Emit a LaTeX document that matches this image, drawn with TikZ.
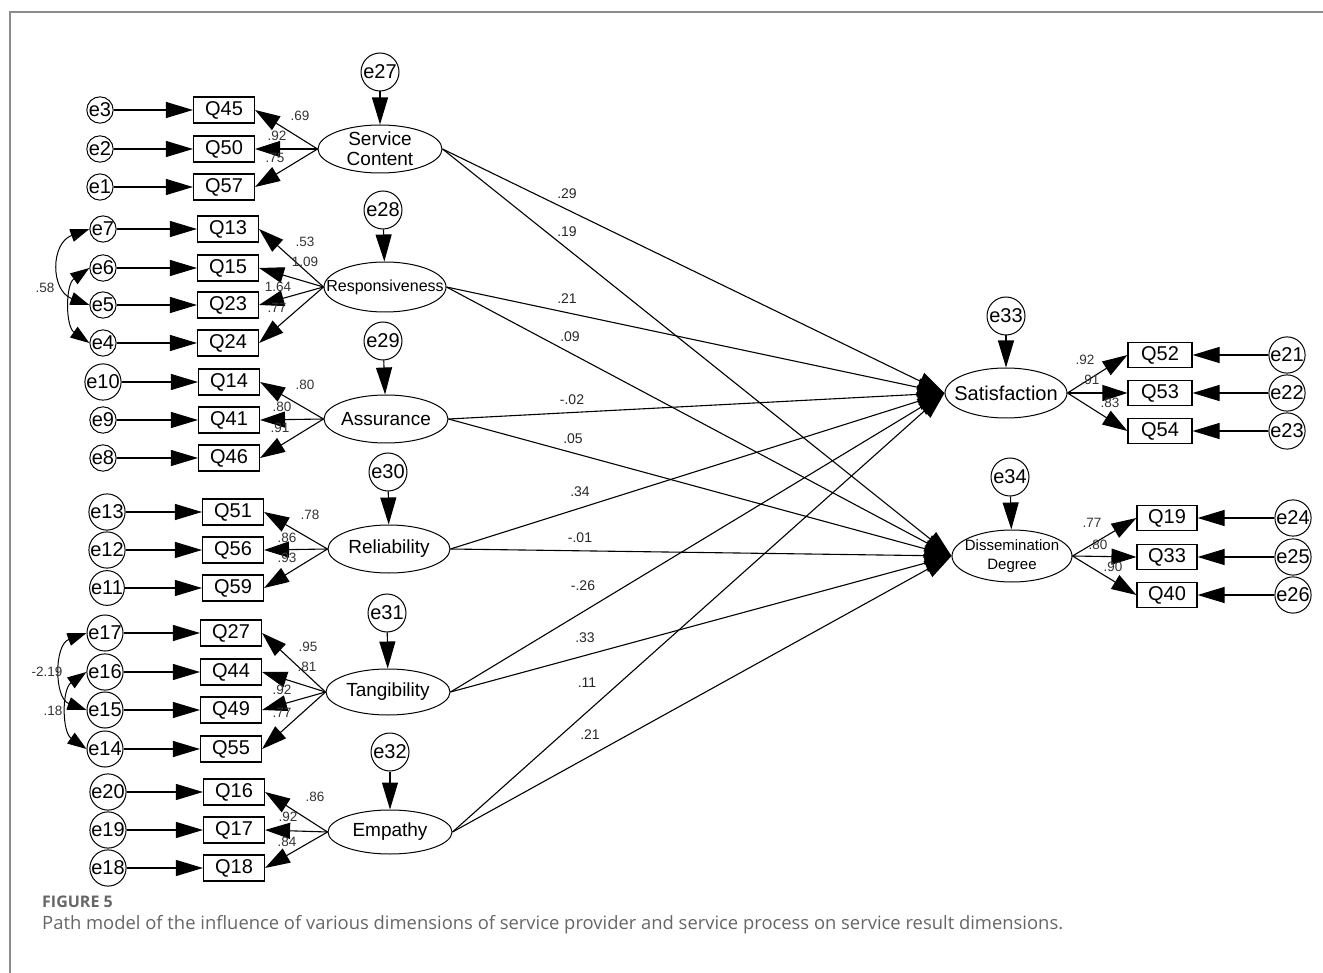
\documentclass[tikz,border=0pt]{standalone}
\usepackage{fontspec}
\setmainfont{Liberation Sans}
\newfontfamily\capfont{Open Sans}
\usetikzlibrary{shapes.geometric,arrows.meta}
\begin{document}
\begin{tikzpicture}[x=1pt,y=-1pt,
  err/.style={circle,draw,line width=1pt,inner sep=0pt,minimum size=25pt,font=\fontsize{20}{20}\selectfont},
  errbig/.style={err,minimum size=38pt,font=\fontsize{20}{20}\selectfont},
  obs/.style={rectangle,draw,line width=1.1pt,minimum width=61pt,minimum height=26pt,inner sep=0pt,font=\fontsize{20}{20}\selectfont},
  lat/.style={ellipse,draw,line width=1pt,inner sep=0pt,minimum width=124pt,minimum height=48pt},
  lattext/.style={align=center,inner sep=0pt,font=\fontsize{19}{20}\selectfont},
  arr/.style={line width=1.1pt,-{Triangle[length=27pt,width=16pt]}},
  load/.style={line width=1.1pt,-{Triangle[length=25pt,width=16pt]}},
  struct/.style={line width=1.1pt,-{Triangle[length=27pt,width=18pt]}},
  cov/.style={line width=1pt,{Triangle[length=19pt,width=13pt]}-{Triangle[length=19pt,width=13pt]}},
  wt/.style={inner sep=0pt,text=black!80,font=\fontsize{13.5}{13.5}\selectfont},
  pw/.style={inner sep=0pt,text=black!85,font=\fontsize{14}{14}\selectfont},
]
\useasboundingbox (0,0) rectangle (1323,973);

% open frame along the top and left
\draw[black!45,line width=1.5pt] (10,973) -- (10,12) -- (1323,12);

% ---------- Service Content ----------
\node[errbig] (e27) at (380,72) {e27};
\node[lat,label={[lattext]center:Service\\Content}] (sc) at (380,149) {};
\node[obs] (q45) at (224,110) {Q45};
\node[obs] (q50) at (224,149) {Q50};
\node[obs] (q57) at (224,187) {Q57};
\node[err] (e3) at (100,110) {e3};
\node[err] (e2) at (100,149) {e2};
\node[err] (e1) at (100,187) {e1};

% ---------- Responsiveness ----------
\node[errbig] (e28) at (383,210) {e28};
\node[lat,minimum width=122pt,minimum height=50pt,
      label={[lattext,font=\fontsize{16}{16}\selectfont]center:Responsiveness}] (rs) at (385,287) {};
\node[obs] (q13) at (228,229) {Q13};
\node[obs] (q15) at (228,268) {Q15};
\node[obs] (q23) at (228,305) {Q23};
\node[obs] (q24) at (228,343) {Q24};
\node[err] (e7) at (103,229) {e7};
\node[err] (e6) at (103,268) {e6};
\node[err] (e5) at (103,305) {e5};
\node[err] (e4) at (103,343) {e4};

% ---------- Assurance ----------
\node[errbig] (e29) at (383,341) {e29};
\node[lat,label={[lattext]center:Assurance}] (as) at (386,419) {};
\node[obs] (q14) at (229,382) {Q14};
\node[obs] (q41) at (229,420) {Q41};
\node[obs] (q46) at (229,458) {Q46};
\node[err] (e10) at (103,382) {e10};
\node[err] (e9) at (103,420) {e9};
\node[err] (e8) at (103,458) {e8};

% ---------- Reliability ----------
\node[errbig] (e30) at (388,472) {e30};
\node[lat,minimum width=122pt,label={[lattext]center:Reliability}] (rl) at (389,549) {};
\node[obs] (q51) at (233,512) {Q51};
\node[obs] (q56) at (233,550) {Q56};
\node[obs] (q59) at (233,588) {Q59};
\node[err] (e13) at (107,512) {e13};
\node[err] (e12) at (107,550) {e12};
\node[err] (e11) at (107,588) {e11};

% ---------- Tangibility ----------
\node[errbig] (e31) at (387,613) {e31};
\node[lat,minimum height=46pt,label={[lattext]center:Tangibility}] (tg) at (388,692) {};
\node[obs] (q27) at (231,633) {Q27};
\node[obs] (q44) at (231,672) {Q44};
\node[obs] (q49) at (231,710) {Q49};
\node[obs] (q55) at (231,749) {Q55};
\node[err] (e17) at (105,633) {e17};
\node[err] (e16) at (105,672) {e16};
\node[err] (e15) at (105,710) {e15};
\node[err] (e14) at (105,749) {e14};

% ---------- Empathy ----------
\node[errbig] (e32) at (390,752) {e32};
\node[lat,minimum height=44pt,label={[lattext]center:Empathy}] (em) at (390,832) {};
\node[obs] (q16) at (234,792) {Q16};
\node[obs] (q17) at (234,830) {Q17};
\node[obs] (q18) at (234,868) {Q18};
\node[err] (e20) at (108,792) {e20};
\node[err] (e19) at (108,830) {e19};
\node[err] (e18) at (108,868) {e18};

% ---------- Satisfaction ----------
\node[errbig] (e33) at (1006,316) {e33};
\node[lat,minimum width=122pt,minimum height=50pt,label={[lattext,font=\fontsize{20}{20}\selectfont]center:Satisfaction}] (sat) at (1006,393) {};
\node[obs,minimum width=64pt,minimum height=25pt] (q52) at (1160,355) {Q52};
\node[obs,minimum width=64pt,minimum height=25pt] (q53) at (1160,393) {Q53};
\node[obs,minimum width=64pt,minimum height=25pt] (q54) at (1160,431) {Q54};
\node[err] (e21) at (1287,355) {e21};
\node[err] (e22) at (1287,393) {e22};
\node[err] (e23) at (1287,431) {e23};

% ---------- Dissemination Degree ----------
\node[errbig] (e34) at (1010,477) {e34};
\node[lat,minimum width=120pt,minimum height=52pt,
      label={[lattext,font=\fontsize{15}{19}\selectfont]center:Dissemination\\Degree}] (dd) at (1012,556) {};
\node[obs,minimum width=60pt,minimum height=25pt] (q19) at (1167,518) {Q19};
\node[obs,minimum width=60pt,minimum height=25pt] (q33) at (1167,557) {Q33};
\node[obs,minimum width=60pt,minimum height=25pt] (q40) at (1167,595) {Q40};
\node[err] (e24) at (1293,518) {e24};
\node[err] (e25) at (1293,557) {e25};
\node[err] (e26) at (1293,595) {e26};

% ---------- residuals into latent variables ----------
\foreach \e/\l in {e27/sc,e28/rs,e29/as,e30/rl,e31/tg,e32/em,e33/sat,e34/dd}
  \draw[arr] (\e) -- (\l);

% ---------- measurement errors into indicators ----------
\foreach \e/\q in {e3/q45,e2/q50,e1/q57,e7/q13,e6/q15,e5/q23,e4/q24,
                   e10/q14,e9/q41,e8/q46,e13/q51,e12/q56,e11/q59,
                   e17/q27,e16/q44,e15/q49,e14/q55,e20/q16,e19/q17,e18/q18,
                   e21/q52,e22/q53,e23/q54,e24/q19,e25/q33,e26/q40}
  \draw[arr] (\e) -- (\q);

% ---------- loadings ----------
\foreach \l/\q in {sc/q45,sc/q50,sc/q57,rs/q13,rs/q15,rs/q23,rs/q24,
                   as/q14,as/q41,as/q46,rl/q51,rl/q56,rl/q59,
                   tg/q27,tg/q44,tg/q49,tg/q55,em/q16,em/q17,em/q18}
  \draw[load] (\l.west) -- (\q.east);
\foreach \l/\q in {sat/q52,sat/q53,sat/q54,dd/q19,dd/q33,dd/q40}
  \draw[load] (\l.east) -- (\q.west);

% ---------- structural paths ----------
\foreach \l in {sc,rs,as,rl,tg,em}{
  \draw[struct] (\l.east) -- (sat.west);
  \draw[struct] (\l.east) -- (dd.west);
}

% ---------- error covariances ----------
\draw[cov] (e7.west) to[out=200,in=160,looseness=1.4] (e5.west);
\draw[cov] (e6.west) to[out=215,in=145] (e4.west);
\draw[cov] (e17.west) to[out=200,in=160,looseness=1.15] (e15.west);
\draw[cov] (e16.west) to[out=215,in=145] (e14.west);

% ---------- estimates ----------
\node[wt] (w1) at (300,116) {.69};
\node[wt] (w2) at (277,136) {.92};
\node[wt] (w3) at (275,158) {.75};
\node[wt] (w4) at (305,242) {.53};
\node[wt] (w5) at (305,262) {1.09};
\node[wt] (w6) at (278,287) {1.64};
\node[wt] (w7) at (277,308) {.77};
\node[wt] (w8) at (305,385) {.80};
\node[wt] (w9) at (282,407) {.80};
\node[wt] (w10) at (280,428) {.91};
\node[wt] (w11) at (310,515) {.78};
\node[wt] (w12) at (287,538) {.86};
\node[wt] (w13) at (287,558) {.93};
\node[wt] (w14) at (308,647) {.95};
\node[wt] (w15) at (307,667) {.81};
\node[wt] (w16) at (282,690) {.92};
\node[wt] (w17) at (282,713) {.77};
\node[wt] (w18) at (315,797) {.86};
\node[wt] (w19) at (288,817) {.92};
\node[wt] (w20) at (287,842) {.84};
\node[wt] (w21) at (1085,360) {.92};
\node[wt] (w22) at (1090,380) {.91};
\node[wt] (w23) at (1110,403) {.83};
\node[wt] (w24) at (1092,523) {.77};
\node[wt] (w25) at (1098,545) {.80};
\node[wt] (w26) at (1113,567) {.90};
\node[wt] (c1) at (45,288) {.58};
\node[wt] (c2) at (47,672) {-2.19};
\node[wt] (c3) at (53,711) {.18};

\node[pw] (p1) at (567,194) {.29};
\node[pw] (p2) at (567,232) {.19};
\node[pw] (p3) at (567,299) {.21};
\node[pw] (p4) at (570,337) {.09};
\node[pw] (p5) at (572,400) {-.02};
\node[pw] (p6) at (573,439) {.05};
\node[pw] (p7) at (580,492) {.34};
\node[pw] (p8) at (580,538) {-.01};
\node[pw] (p9) at (583,586) {-.26};
\node[pw] (p10) at (585,638) {.33};
\node[pw] (p11) at (587,683) {.11};
\node[pw] (p12) at (590,735) {.21};

% ---------- caption ----------
\node[anchor=west,inner sep=0pt,text=black!60,font=\capfont\bfseries\fontsize{16}{16}\selectfont] (fig) at (42,902) {FIGURE 5};
\node[anchor=west,inner sep=0pt,text=black!60,font=\capfont\fontsize{18.4}{18.4}\selectfont] (cap) at (42,925)
  {Path model of the influence of various dimensions of service provider and service process on service result dimensions.};
\end{tikzpicture}
\end{document}
